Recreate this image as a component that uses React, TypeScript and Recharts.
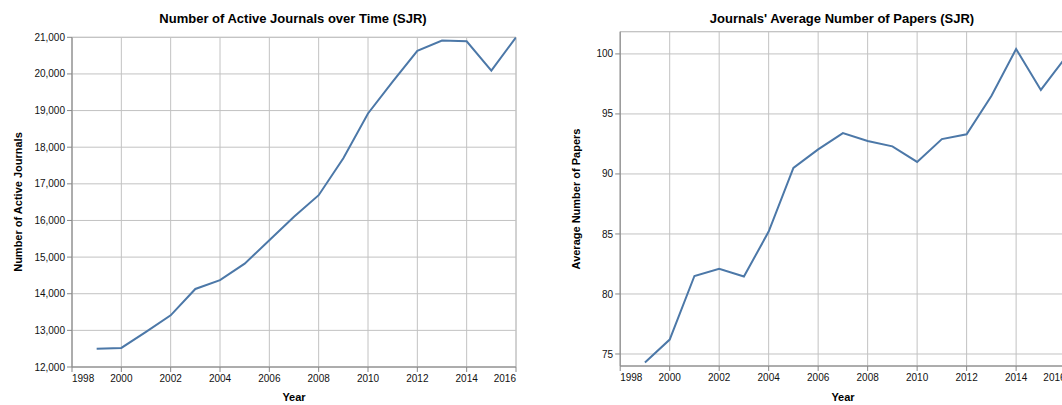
import React from "react"
import {
  LineChart, Line, XAxis, YAxis, CartesianGrid, ReferenceArea,
} from "recharts"

// ─── Data (SJR) ───────────────────────────────────────────────────────────────
const years = [1999, 2000, 2001, 2002, 2003, 2004, 2005, 2006, 2007, 2008, 2009, 2010, 2011, 2012, 2013, 2014, 2015, 2016]
const activeJournals = [12500, 12520, 12960, 13410, 14130, 14370, 14820, 15460, 16100, 16690, 17700, 18920, 19790, 20630, 20910, 20890, 20090, 21000]
const avgPapers = [74.3, 76.2, 81.5, 82.1, 81.45, 85.2, 90.5, 92.05, 93.4, 92.75, 92.3, 91.0, 92.9, 93.3, 96.5, 100.4, 97.0, 99.7]

const yearTicks = [1998, 2000, 2002, 2004, 2006, 2008, 2010, 2012, 2014, 2016]
const journalTicks = [12000, 13000, 14000, 15000, 16000, 17000, 18000, 19000, 20000, 21000]
const paperTicks = [75, 80, 85, 90, 95, 100]

const journalsData = years.map((year, i) => ({ year, value: activeJournals[i] }))
const papersData = years.map((year, i) => ({ year, value: avgPapers[i] }))

const FONT = "'Liberation Sans', Arial, Helvetica, sans-serif"
const LINE = "#4c78a8"
const GRID = "#c2c2c2"
const AXIS = "#888"
const tick = { fontSize: 10, fill: "#111", fontFamily: FONT }
const Y_W = 60
const X_H = 30

// first and last year labels sit flush with the plot edges
function YearTick({ x, y, payload }: any) {
  const v = payload.value
  const anchor = v === yearTicks[0] ? "start" : v === yearTicks[yearTicks.length - 1] ? "end" : "middle"
  return (
    <text x={x} y={y} dy="0.71em" textAnchor={anchor} fontSize={10} fill="#111" fontFamily={FONT}>
      {v}
    </text>
  )
}

function Title({ x, y, text, size = 13, rotate = false }: { x: number; y: number; text: string; size?: number; rotate?: boolean }) {
  return (
    <div
      style={{
        position: "absolute",
        left: x,
        top: y,
        transform: `translate(-50%, -50%)${rotate ? " rotate(-90deg)" : ""}`,
        fontFamily: FONT,
        fontWeight: "bold",
        fontSize: size,
        color: "#000",
        whiteSpace: "nowrap",
      }}
    >
      {text}
    </div>
  )
}

// plot box given in page pixels; axis widths are taken off the margins
function Panel({
  data, left, width, plot, yDomain, yTicks, fmt,
}: {
  data: any[]
  left: number
  width: number
  plot: { x0: number; x1: number; y0: number; y1: number }
  yDomain: [number, number]
  yTicks: number[]
  fmt?: (v: number) => string
}) {
  const margin = {
    top: plot.y0,
    left: plot.x0 - left - Y_W,
    right: left + width - plot.x1,
    bottom: 405 - plot.y1 - X_H,
  }
  return (
    <div style={{ position: "absolute", left, top: 0 }}>
      <LineChart width={width} height={405} data={data} margin={margin}>
        <CartesianGrid stroke={GRID} />
        <ReferenceArea
          x1={1998} x2={2016} y1={yDomain[0]} y2={yDomain[1]}
          fill="none" fillOpacity={0} stroke={GRID} strokeOpacity={1}
        />
        <XAxis
          dataKey="year" type="number" domain={[1998, 2016]} ticks={yearTicks}
          allowDataOverflow height={X_H} tick={<YearTick />} tickSize={5} tickMargin={3}
          stroke={AXIS} interval={0}
        />
        <YAxis
          type="number" domain={yDomain} ticks={yTicks} allowDataOverflow
          width={Y_W} tick={tick} tickSize={5} tickMargin={2} stroke={AXIS}
          tickFormatter={fmt} interval={0}
        />
        <Line
          type="linear" dataKey="value" stroke={LINE} strokeWidth={2}
          dot={false} activeDot={false} isAnimationActive={false}
        />
      </LineChart>
    </div>
  )
}

export default function App() {
  return (
    <div style={{ position: "fixed", left: 0, top: 0, width: 1062, height: 405, overflow: "hidden", background: "#fff" }}>
      <Panel
        data={journalsData}
        left={0}
        width={530}
        plot={{ x0: 72, x1: 516, y0: 37.3, y1: 367 }}
        yDomain={[12000, 21000]}
        yTicks={journalTicks}
        fmt={(v) => v.toLocaleString("en-US")}
      />
      <Panel
        data={papersData}
        left={530}
        width={560}
        plot={{ x0: 620.2, x1: 1065.6, y0: 31.7, y1: 366 }}
        yDomain={[74, 101.85]}
        yTicks={paperTicks}
      />
      <Title x={293} y={18} text="Number of Active Journals over Time (SJR)" />
      <Title x={842} y={18} text="Journals' Average Number of Papers (SJR)" />
      <Title x={18} y={202} text="Number of Active Journals" size={11} rotate />
      <Title x={576} y={199} text="Average Number of Papers" size={11} rotate />
      <Title x={294} y={397} text="Year" size={11} />
      <Title x={843} y={397} text="Year" size={11} />
    </div>
  )
}
